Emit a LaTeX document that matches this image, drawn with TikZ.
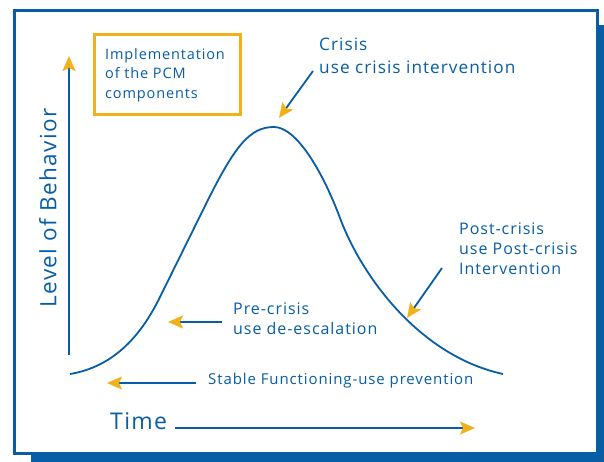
\documentclass[tikz,border=0pt]{standalone}
\usepackage{fontspec}
\setmainfont[LetterSpace=6]{Open Sans}
\usetikzlibrary{arrows.meta}
\definecolor{pcmblue}{RGB}{8,94,166}
\definecolor{pcmyellow}{RGB}{240,178,26}
\tikzset{
  lbl/.style={anchor=west,align=left,text=pcmblue,inner sep=0pt},
  ptr/.style={pcmblue,line width=1.8pt,-{Stealth[length=15pt,width=13pt,inset=3pt,color=pcmyellow]}}
}
\begin{document}
\begin{tikzpicture}[x=1pt,y=-1pt]
\useasboundingbox (0,0) rectangle (604,462);
\fill[white] (0,0) rectangle (604,462);
\fill[pcmblue] (597,25) rectangle (604,462);
\fill[pcmblue] (31,454) rectangle (604,462);
\draw[pcmblue,line width=3pt] (14,11) rectangle (597,453);

\node(box)[draw=pcmyellow,line width=3pt,minimum width=146pt,minimum height=80pt,anchor=north west] at (93,33) {};
\node(impl)[lbl,font=\fontsize{14.5}{19.5}\selectfont] at (105,75) {Implementation\\of the PCM\\components};

\node(crisis)[lbl,font=\fontsize{17.2}{23}\selectfont] at (319,55.5) {Crisis\\use crisis intervention};
\node(post)[lbl,font=\fontsize{16}{20}\selectfont] at (459,249) {Post-crisis\\use Post-crisis\\Intervention};
\node(pre)[lbl,font=\fontsize{16}{20}\selectfont] at (233,319) {Pre-crisis\\use de-escalation};
\node(stable)[lbl,font=\fontsize{15}{18}\selectfont] at (208,381) {Stable Functioning-use prevention};
\node(time)[lbl,font=\fontsize{23}{28}\selectfont] at (110,421) {Time};
\node(level)[lbl,anchor=center,rotate=90,font=\fontsize{22.5}{28}\selectfont] at (48,208) {Level of Behavior};

\coordinate (yfoot) at (69,355);
\coordinate (ytop) at (69,56);
\coordinate (tfoot) at (175,428);
\coordinate (tend) at (475,428);
\draw[ptr] (yfoot) -- (ytop);
\draw[ptr] (tfoot) -- (tend);

\draw[pcmblue,line width=1.8pt] (70,374) .. controls (112,367) and (140,338) .. (160,297) -- (205,206)
  .. controls (235,145) and (250,127) .. (274,127) .. controls (296,127) and (322,170) .. (340,218)
  .. controls (362,277) and (420,356) .. (503,374);

\coordinate (crisisfoot) at (313,71);
\coordinate (postfoot) at (442,268);
\coordinate (prefoot) at (222,322);
\coordinate (stablefoot) at (196,383);
\coordinate (peak) at (279,118);
\coordinate (calm) at (107,383);
\coordinate (rise) at (168,322);
\coordinate (fall) at (407,318);
\draw[ptr] (crisisfoot) -- (peak);
\draw[ptr] (postfoot) -- (fall);
\draw[ptr] (prefoot) -- (rise);
\draw[ptr] (stablefoot) -- (calm);
\end{tikzpicture}
\end{document}
